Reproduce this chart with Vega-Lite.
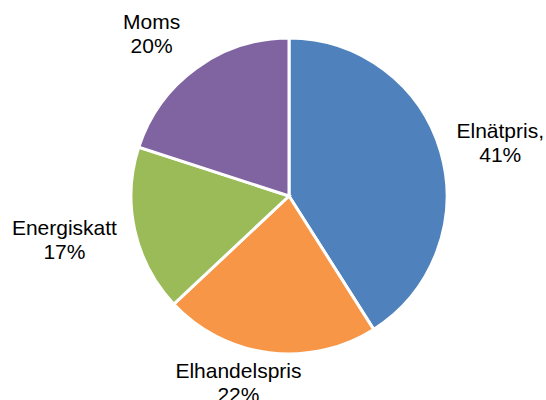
{
  "$schema": "https://vega.github.io/schema/vega-lite/v6.json",
  "autosize": {"type": "none"},
  "width": 514,
  "height": 392,
  "padding": {"left": 32, "top": 0, "right": 0, "bottom": 8},
  "background": "white",
  "config": {"view": {"stroke": null}, "text": {"font": "Liberation Sans"}},
  "data": {
    "values": [
      {"category": "Elnätpris", "label": "Elnätpris,", "value": 41, "idx": 1},
      {"category": "Elhandelspris", "label": "Elhandelspris", "value": 22, "idx": 2},
      {"category": "Energiskatt", "label": "Energiskatt", "value": 17, "idx": 3},
      {"category": "Moms", "label": "Moms", "value": 20, "idx": 4}
    ]
  },
  "transform": [
    {"stack": "value", "groupby": [], "sort": [{"field": "idx"}], "as": ["v0", "v1"]},
    {"calculate": "(datum.v0 + datum.v1) / 2", "as": "mid"},
    {"calculate": "datum.label + '\\n' + datum.value + '%'", "as": "txt"}
  ],
  "layer": [
    {
      "mark": {"type": "arc", "outerRadius": 158, "stroke": "white", "strokeWidth": 3},
      "encoding": {
        "theta": {"field": "v0", "type": "quantitative", "scale": {"domain": [0, 100]}},
        "theta2": {"field": "v1"},
        "color": {
          "field": "category",
          "type": "nominal",
          "scale": {
            "domain": ["Elnätpris", "Elhandelspris", "Energiskatt", "Moms"],
            "range": ["#4F81BD", "#F79646", "#9BBB59", "#8064A2"]
          },
          "legend": null
        }
      }
    },
    {
      "transform": [{"filter": "datum.category == 'Elnätpris'"}],
      "mark": {"type": "text", "radius": 220, "dy": -3, "fontSize": 21, "lineHeight": 24, "lineBreak": "\n", "color": "black"},
      "encoding": {
        "theta": {"field": "mid", "type": "quantitative"},
        "text": {"field": "txt"}
      }
    },
    {
      "transform": [{"filter": "datum.category == 'Elhandelspris'"}],
      "mark": {"type": "text", "radius": 188, "dx": -27, "dy": -11, "fontSize": 21, "lineHeight": 24, "lineBreak": "\n", "color": "black"},
      "encoding": {
        "theta": {"field": "mid", "type": "quantitative"},
        "text": {"field": "txt"}
      }
    },
    {
      "transform": [{"filter": "datum.category == 'Energiskatt'"}],
      "mark": {"type": "text", "radius": 225, "dx": -5, "dy": -16, "fontSize": 21, "lineHeight": 24, "lineBreak": "\n", "color": "black"},
      "encoding": {
        "theta": {"field": "mid", "type": "quantitative"},
        "text": {"field": "txt"}
      }
    },
    {
      "transform": [{"filter": "datum.category == 'Moms'"}],
      "mark": {"type": "text", "radius": 210, "dx": -14, "dy": -3, "fontSize": 21, "lineHeight": 24, "lineBreak": "\n", "color": "black"},
      "encoding": {
        "theta": {"field": "mid", "type": "quantitative"},
        "text": {"field": "txt"}
      }
    }
  ]
}
